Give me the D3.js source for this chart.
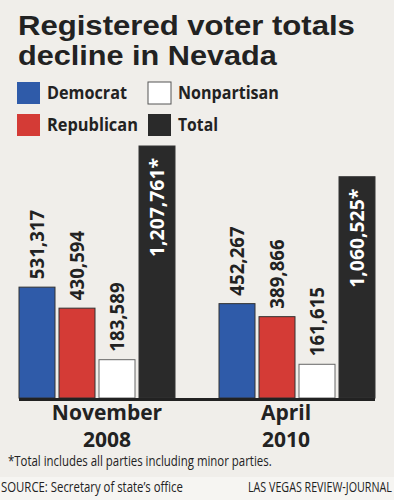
<!DOCTYPE html>
<html>
<head>
<meta charset="utf-8">
<script src="https://cdn.jsdelivr.net/npm/d3@7"></script>
<style>
  html, body { margin: 0; padding: 0; background: #f0eeea; }
  svg { display: block; }
  text { font-family: "Open Sans", "DejaVu Sans", sans-serif; }
  text.title { font-family: "Liberation Sans", Arial, sans-serif; }
</style>
</head>
<body>
<div id="chart"></div>
<script>
// data
const periods = ["November 2008", "April 2010"];
const series = ["Democrat", "Republican", "Nonpartisan", "Total"];
const democrat = [531317, 452267];
const republican = [430594, 389866];
const nonpartisan = [183589, 161615];
const total = [1207761, 1060525];
const valueLabels = [
    ["531,317", "430,594", "183,589", "1,207,761*"],
    ["452,267", "389,866", "161,615", "1,060,525*"]
];
const footnote = "*Total includes all parties including minor parties.";

const width = 394, height = 500;
const colors = {
    Democrat: "#2f5ba9",
    Republican: "#d43b36",
    Nonpartisan: "#ffffff",
    Total: "#2a2a2a"
};

// squeeze a text horizontally (condensed look) to a target width
function fit(sel, target) {
    sel.each(function (d) {
        const t = typeof target === "function" ? target(d) : target;
        const w = this.getComputedTextLength();
        const s = t / w;
        const x = +this.getAttribute("x") || 0, yy = +this.getAttribute("y") || 0;
        d3.select(this)
            .attr("transform", `translate(${x},${yy}) scale(${s},1) translate(${-x},${-yy})`);
    });
}

const svg = d3.select("#chart").append("svg")
    .attr("width", width)
    .attr("height", height);

svg.append("rect")
    .attr("width", width).attr("height", height)
    .attr("fill", "#f0eeea");

// bottom strip is a bit lighter
svg.append("rect")
    .attr("y", 477).attr("width", width).attr("height", height - 477)
    .attr("fill", "#f6f5f2");

// title, two separate lines
svg.append("text")
    .attr("class", "title")
    .attr("x", 18).attr("y", 35)
    .attr("font-size", "27px")
    .attr("font-weight", "700")
    .attr("fill", "#222")
    .text("Registered voter totals")
    .call(fit, 337);
svg.append("text")
    .attr("class", "title")
    .attr("x", 18).attr("y", 65)
    .attr("font-size", "27px")
    .attr("font-weight", "700")
    .attr("fill", "#222")
    .text("decline in Nevada")
    .call(fit, 259);

// legend: Democrat/Republican in col 1, Nonpartisan/Total in col 2
const legend = svg.append("g");
const li = legend.selectAll("g")
    .data(series)
    .enter()
    .append("g")
    .attr("transform", d => {
        const col = (d === "Democrat" || d === "Republican") ? 17 : 148;
        const row = (d === "Democrat" || d === "Nonpartisan") ? 82 : 114;
        return `translate(${col}, ${row})`;
    });

li.append("rect")
    .attr("width", 23).attr("height", 22)
    .attr("fill", d => colors[d])
    .attr("stroke", d => d === "Nonpartisan" ? "#555" : "none")
    .attr("stroke-width", 1);

li.append("text")
    .attr("x", 30).attr("y", 17)
    .attr("font-size", "17px")
    .attr("font-weight", "700")
    .attr("fill", "#222")
    .text(d => d)
    .call(fit, d => ({Democrat: 80, Republican: 91, Nonpartisan: 101, Total: 40})[d]);

// scales
const x0 = d3.scaleBand()
    .domain(periods)
    .range([19, 375])
    .paddingInner(0.22)
    .paddingOuter(0);

const x1 = d3.scaleBand()
    .domain(series)
    .range([0, x0.bandwidth()])
    .paddingInner(0.1)
    .paddingOuter(0);

const y = d3.scaleLinear()
    .domain([0, total[0]])
    .range([398, 146]);

const rows = periods.map((p, i) => ({
    period: p,
    idx: i,
    values: [
        { key: "Democrat", value: democrat[i], label: valueLabels[i][0] },
        { key: "Republican", value: republican[i], label: valueLabels[i][1] },
        { key: "Nonpartisan", value: nonpartisan[i], label: valueLabels[i][2] },
        { key: "Total", value: total[i], label: valueLabels[i][3] }
    ]
}));

const groups = svg.selectAll("g.period")
    .data(rows)
    .enter()
    .append("g")
    .attr("class", "period")
    .attr("transform", d => `translate(${x0(d.period)}, 0)`);

groups.selectAll("rect")
    .data(d => d.values)
    .enter()
    .append("rect")
    .attr("x", d => x1(d.key))
    .attr("y", d => y(d.value))
    .attr("width", x1.bandwidth())
    .attr("height", d => y(0) - y(d.value))
    .attr("fill", d => colors[d.key])
    .attr("stroke", d => d.key === "Nonpartisan" ? "#666" : "#333")
    .attr("stroke-width", 1);

// value labels, rotated
groups.selectAll("text.val")
    .data(d => d.values)
    .enter()
    .append("text")
    .attr("class", "val")
    .attr("transform", d => {
        const cx = x1(d.key) + x1.bandwidth() / 2;
        const yy = d.key === "Total" ? y(d.value) + 12 : y(d.value) - 8;
        return `translate(${cx}, ${yy}) rotate(-90)`;
    })
    .attr("text-anchor", d => d.key === "Total" ? "end" : "start")
    .attr("dy", "0.36em")
    .attr("font-size", "20px")
    .attr("font-weight", "700")
    .attr("fill", d => d.key === "Total" ? "#fff" : "#222")
    .attr("textLength", d => d.label.length * 9.9)
    .attr("lengthAdjust", "spacingAndGlyphs")
    .text(d => d.label);

// baseline
svg.append("line")
    .attr("x1", 19).attr("x2", 375)
    .attr("y1", y(0) + 1.5).attr("y2", y(0) + 1.5)
    .attr("stroke", "#222")
    .attr("stroke-width", 3);

// period labels
const pl = groups.append("text")
    .attr("text-anchor", "middle")
    .attr("font-size", "21px")
    .attr("font-weight", "700")
    .attr("fill", "#222");
pl.append("tspan")
    .attr("x", d => x0.bandwidth() / 2 + (d.idx === 0 ? 10 : -11))
    .attr("y", 420)
    .text(d => d.period.split(" ")[0]);
pl.append("tspan")
    .attr("x", d => x0.bandwidth() / 2 + (d.idx === 0 ? 10 : -11))
    .attr("y", 447)
    .text(d => d.period.split(" ")[1]);

// footnote
svg.append("text")
    .attr("x", 8).attr("y", 466)
    .attr("font-size", "14px")
    .attr("fill", "#222")
    .text(footnote)
    .call(fit, 264);

svg.append("text")
    .attr("x", 1).attr("y", 492)
    .attr("font-size", "14px")
    .attr("fill", "#222")
    .text("SOURCE: Secretary of state’s office")
    .call(fit, 182);

svg.append("text")
    .attr("x", 248).attr("y", 492)
    .attr("font-size", "14px")
    .attr("fill", "#222")
    .text("LAS VEGAS REVIEW-JOURNAL")
    .call(fit, 144);
</script>
</body>
</html>
